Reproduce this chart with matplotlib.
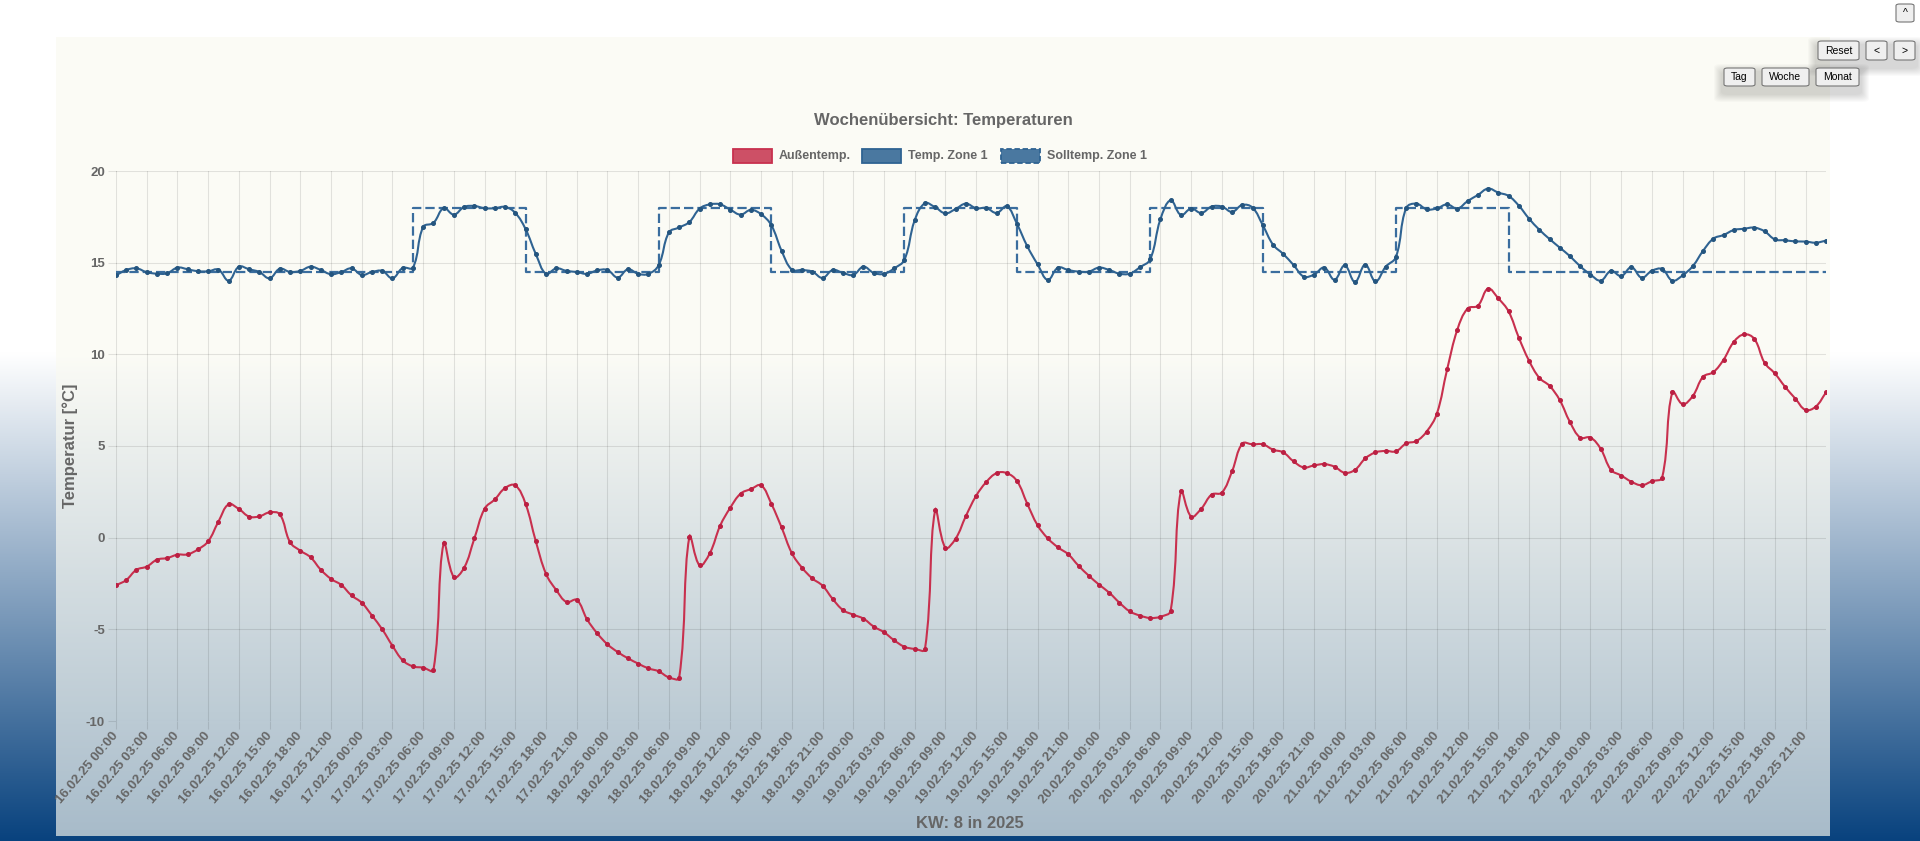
import numpy as np
import matplotlib
matplotlib.use("Agg")
import matplotlib.pyplot as plt
from matplotlib.path import Path
from matplotlib.patches import PathPatch, Rectangle, FancyBboxPatch

plt.rcParams['font.family'] = ['Liberation Sans', 'DejaVu Sans']

# ---- data (hourly values, 16.02.25 00:00 .. 22.02.25 23:00) ----
hours = np.arange(168)

aussen_temp = [
    -2.60, -2.31, -1.75, -1.58, -1.20, -1.11, -0.93, -0.91, -0.64, -0.20,
    0.87, 1.82, 1.56, 1.15, 1.16, 1.38, 1.27, -0.25, -0.71, -1.07,
    -1.75, -2.25, -2.58, -3.15, -3.55, -4.25, -5.00, -5.90, -6.69, -7.02,
    -7.09, -7.22, -0.31, -2.15, -1.64, -0.04, 1.58, 2.09, 2.71, 2.85,
    1.84, -0.20, -1.98, -2.86, -3.51, -3.40, -4.45, -5.22, -5.82, -6.24,
    -6.58, -6.87, -7.13, -7.29, -7.62, -7.64, 0.05, -1.51, -0.84, 0.65,
    1.64, 2.40, 2.65, 2.85, 1.85, 0.56, -0.84, -1.64, -2.22, -2.62,
    -3.35, -3.95, -4.20, -4.42, -4.85, -5.16, -5.60, -5.95, -6.07, -6.09,
    1.49, -0.55, -0.05, 1.18, 2.28, 3.04, 3.52, 3.52, 3.08, 1.84,
    0.68, -0.04, -0.53, -0.91, -1.53, -2.07, -2.56, -3.00, -3.55, -4.02,
    -4.25, -4.38, -4.31, -3.98, 2.52, 1.15, 1.59, 2.35, 2.46, 3.63,
    5.13, 5.09, 5.09, 4.80, 4.65, 4.16, 3.83, 3.94, 4.01, 3.87,
    3.54, 3.70, 4.32, 4.65, 4.73, 4.71, 5.14, 5.27, 5.79, 6.77,
    9.18, 11.35, 12.50, 12.65, 13.58, 13.05, 12.34, 10.91, 9.65, 8.72,
    8.28, 7.50, 6.30, 5.46, 5.46, 4.84, 3.70, 3.39, 3.05, 2.86,
    3.08, 3.28, 7.94, 7.28, 7.74, 8.78, 9.03, 9.71, 10.68, 11.09,
    10.84, 9.54, 8.96, 8.23, 7.59, 6.97, 7.15, 7.92]

zone1_temp = [
    14.31, 14.60, 14.69, 14.48, 14.40, 14.42, 14.73, 14.64, 14.53, 14.53,
    14.62, 14.02, 14.78, 14.64, 14.49, 14.15, 14.67, 14.49, 14.55, 14.78,
    14.60, 14.37, 14.49, 14.69, 14.33, 14.49, 14.55, 14.15, 14.71, 14.73,
    16.95, 17.17, 17.97, 17.62, 18.04, 18.09, 17.97, 17.97, 18.04, 17.71,
    16.83, 15.47, 14.39, 14.69, 14.55, 14.49, 14.39, 14.58, 14.60, 14.19,
    14.64, 14.39, 14.39, 14.87, 16.65, 16.92, 17.22, 17.95, 18.18, 18.18,
    17.89, 17.62, 17.88, 17.64, 17.04, 15.65, 14.62, 14.60, 14.51, 14.17,
    14.60, 14.44, 14.33, 14.78, 14.44, 14.39, 14.69, 15.16, 17.31, 18.24,
    18.02, 17.69, 17.93, 18.22, 17.97, 17.98, 17.71, 18.07, 17.10, 15.89,
    14.91, 14.06, 14.73, 14.60, 14.51, 14.51, 14.73, 14.60, 14.40, 14.40,
    14.75, 15.18, 17.37, 18.40, 17.60, 17.95, 17.71, 18.06, 18.06, 17.77,
    18.15, 18.00, 17.04, 15.98, 15.47, 14.87, 14.24, 14.35, 14.73, 14.07,
    14.85, 13.95, 14.89, 13.98, 14.78, 15.31, 17.98, 18.22, 17.91, 17.96,
    18.18, 17.95, 18.36, 18.69, 19.04, 18.82, 18.64, 18.11, 17.40, 16.80,
    16.29, 15.82, 15.35, 14.80, 14.35, 14.02, 14.55, 14.27, 14.75, 14.18,
    14.56, 14.65, 14.02, 14.31, 14.82, 15.65, 16.31, 16.51, 16.78, 16.85,
    16.91, 16.71, 16.27, 16.22, 16.16, 16.15, 16.09, 16.20]

# setpoint: change points (hour index) and value from there on
soll_hours = [0, 29, 40, 53, 64, 77, 88, 101, 112, 125, 136, 167]
soll_values = [14.5, 18.0, 14.5, 18.0, 14.5, 18.0, 14.5, 18.0, 14.5, 18.0, 14.5, 14.5]

days = ['16.02.25', '17.02.25', '18.02.25', '19.02.25', '20.02.25', '21.02.25', '22.02.25']
times = ['00:00', '03:00', '06:00', '09:00', '12:00', '15:00', '18:00', '21:00']
tick_labels = [f'{d} {t}' for d in days for t in times]
tick_pos = np.arange(0, 168, 3)

W, H = 1920, 841
RED = '#c8304e'
RED_FILL = '#cd5066'
BLUE = '#2f6392'
BLUE_FILL = '#4a78a0'
TXT = '#666666'


def fx(px):
    return px / W


def fy(py):
    return 1 - py / H


fig = plt.figure(figsize=(W / 100, H / 100), dpi=100)

# page background gradient (white -> dark blue) + semi transparent chart panel
bg = fig.add_axes([0, 0, 1, 1], zorder=-5)
bg.set_axis_off()
f = np.linspace(0, 1, H)[:, None]
t = np.clip((f - 0.42) / 0.58, 0, 1)
top = np.array([255, 255, 255]) / 255
bot = np.array([8, 66, 126]) / 255
grad = top[None, None, :] * (1 - t[..., None]) + bot[None, None, :] * t[..., None]
bg.imshow(grad, aspect='auto', extent=[0, 1, 0, 1])
bg.set_xlim(0, 1)
bg.set_ylim(0, 1)
bg.add_patch(Rectangle((fx(56), fy(836)), fx(1830) - fx(56), fy(37) - fy(836),
                       facecolor=(0.98, 0.98, 0.945), alpha=0.66, edgecolor='none'))

ax = fig.add_axes([fx(116), fy(721), fx(1826) - fx(116), fy(171) - fy(721)], zorder=1)
ax.set_facecolor('none')
ax.set_xlim(0, 167)
ax.set_ylim(-10, 20)
for s in ax.spines.values():
    s.set_visible(False)
ax.set_yticks([-10, -5, 0, 5, 10, 15, 20])
ax.set_yticklabels(['-10', '-5', '0', '5', '10', '15', '20'])
ax.set_xticks(tick_pos)
ax.set_xticklabels(tick_labels, rotation=50, ha='right', va='center', rotation_mode='anchor')
ax.tick_params(axis='both', color=(0, 0, 0, 0.1), length=6, width=0.8, labelcolor=TXT)
ax.tick_params(axis='y', pad=2, labelsize=9.5)
ax.tick_params(axis='x', pad=3, labelsize=9.5)
for lab in ax.get_xticklabels() + ax.get_yticklabels():
    lab.set_fontweight('bold')
ax.grid(True, color='black', alpha=0.1, linewidth=0.8)
ax.set_axisbelow(True)


def chart_curve(ax, xs, ys, tension=0.4, **kw):
    # bezier smoothing like Chart.js (tension 0.4)
    pts = ax.transData.transform(np.column_stack([xs, ys]))
    n = len(pts)
    cp_prev = pts.copy()
    cp_next = pts.copy()
    for i in range(n):
        prev = pts[i - 1] if i > 0 else pts[i]
        nxt = pts[i + 1] if i < n - 1 else pts[i]
        d01 = np.hypot(*(pts[i] - prev))
        d12 = np.hypot(*(nxt - pts[i]))
        tot = d01 + d12
        s01 = d01 / tot if tot else 0
        s12 = d12 / tot if tot else 0
        cp_prev[i] = pts[i] - tension * s01 * (nxt - prev)
        cp_next[i] = pts[i] + tension * s12 * (nxt - prev)
    verts = [pts[0]]
    codes = [Path.MOVETO]
    for i in range(n - 1):
        verts += [cp_next[i], cp_prev[i + 1], pts[i + 1]]
        codes += [Path.CURVE4] * 3
    verts = ax.transData.inverted().transform(np.array(verts))
    ax.add_patch(PathPatch(Path(verts, codes), fill=False, **kw))


# setpoint (stepped, dashed)
ax.plot(soll_hours, soll_values, drawstyle='steps-post', color='#3a6d9e',
        lw=1.6, dashes=(4.2, 1.8), zorder=3)

# zone temperature
chart_curve(ax, hours, zone1_temp, edgecolor=BLUE, lw=1.5, zorder=4)
ax.plot(hours, zone1_temp, 'o', ms=2.6, color='#24557f', zorder=5)

# outside temperature
chart_curve(ax, hours, aussen_temp, edgecolor=RED, lw=1.5, zorder=4)
ax.plot(hours, aussen_temp, 'o', ms=2.6, color='#bb1f42', zorder=5)

# title, axis labels
fig.text(fx(943), fy(121), 'Wochenübersicht: Temperaturen', ha='center', va='center',
         fontsize=12, fontweight='bold', color=TXT)
fig.text(fx(70), fy(446), 'Temperatur [°C]', rotation=90, ha='center', va='center',
         fontsize=12, fontweight='bold', color=TXT)
fig.text(fx(970), fy(823), 'KW: 8 in 2025', ha='center', va='center',
         fontsize=12, fontweight='bold', color=TXT)

# legend
leg = [(733, RED_FILL, RED, 'solid', 'Außentemp.'),
       (862, BLUE_FILL, BLUE, 'solid', 'Temp. Zone 1'),
       (1001, BLUE_FILL, BLUE, (0, (3, 1.5)), 'Solltemp. Zone 1')]
for x0, fc, ec, ls, name in leg:
    fig.patches.append(Rectangle((fx(x0), fy(163)), fx(39), 14 / H, transform=fig.transFigure,
                                 facecolor=fc, edgecolor=ec, lw=1.3, linestyle=ls, zorder=3))
    fig.text(fx(x0 + 46), fy(156), name, ha='left', va='center', fontsize=9,
             fontweight='bold', color=TXT)

# buttons (top right) with soft shadow
for x0, x1, y0, y1 in [(1722, 1861, 66, 88), (1816, 1917, 39, 62)]:
    for k in range(1, 9):
        fig.patches.append(FancyBboxPatch((fx(x0 - k), fy(y1 + 6 + k)), fx(x1 - x0 + 2 * k),
                                          (y1 - y0 + 2 * k) / H, boxstyle='round,pad=0,rounding_size=0.004',
                                          transform=fig.transFigure, facecolor='black',
                                          edgecolor='none', alpha=0.02, zorder=2))

buttons = [('^', 1896, 1914, 4, 22), ('Reset', 1818, 1859, 41, 60), ('<', 1866, 1887, 41, 60),
           ('>', 1894, 1915, 41, 60), ('Tag', 1724, 1755, 68, 86), ('Woche', 1762, 1809, 68, 86),
           ('Monat', 1816, 1859, 68, 86)]
for name, x0, x1, y0, y1 in buttons:
    fig.patches.append(FancyBboxPatch((fx(x0), fy(y1)), fx(x1 - x0), (y1 - y0) / H,
                                      boxstyle='round,pad=0,rounding_size=0.002',
                                      transform=fig.transFigure, facecolor='#efefef',
                                      edgecolor='#767676', lw=0.8, zorder=3))
    fig.text(fx((x0 + x1) / 2), fy((y0 + y1) / 2), name, ha='center', va='center',
             fontsize=7.5, color='black', zorder=4)

fig.savefig('out.png', dpi=100)
